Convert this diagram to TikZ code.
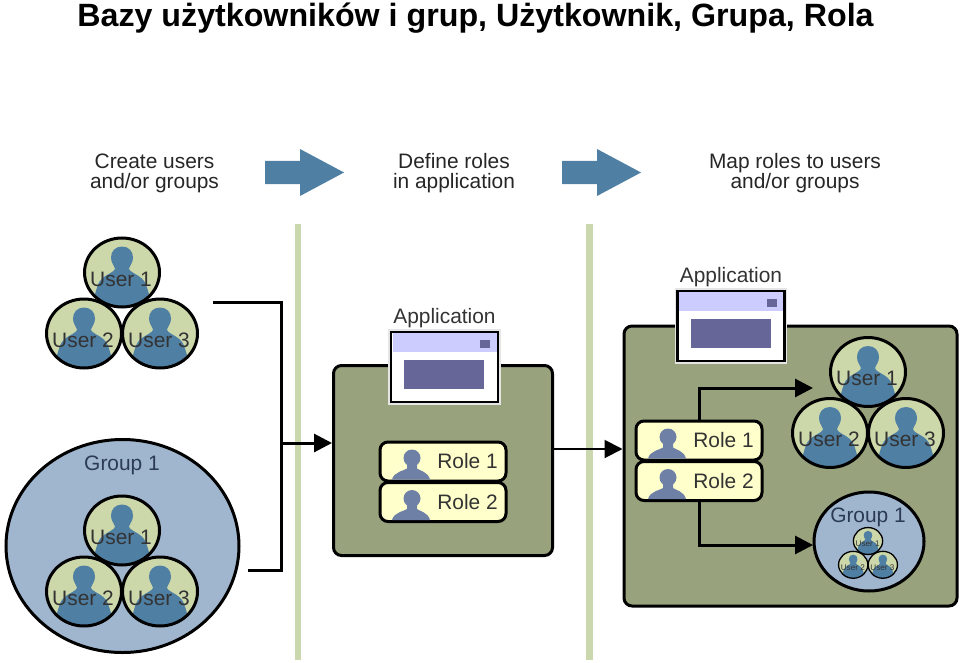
\documentclass[tikz,border=0pt]{standalone}
\usepackage{fontspec}
\setmainfont{Liberation Sans}
\usetikzlibrary{shapes.geometric, arrows.meta}

\definecolor{olivebox}{HTML}{98A27C}
\definecolor{barbeige}{HTML}{CBD7AC}
\definecolor{discgreen}{HTML}{CDD8AA}
\definecolor{steelblue}{HTML}{4F7FA3}
\definecolor{groupblue}{HTML}{A0B5CE}
\definecolor{roleyellow}{HTML}{FFFFCC}
\definecolor{roleperson}{HTML}{6F80A6}
\definecolor{wintitle}{HTML}{CCCCFF}
\definecolor{winpanel}{HTML}{666699}
\definecolor{grouptext}{HTML}{2B3B55}

\newcommand{\pxfont}{\fontsize{20.9}{20}\selectfont}

\tikzset{
  discline/.style={line width=3pt},
  pointer/.style={line width=3pt, -{Triangle[length=18pt,width=18pt]}},
  wire/.style={line width=3pt},
  headline/.style={align=center, font=\pxfont, text=black!85},
  boxpanel/.style={rectangle, draw=black, line width=3pt, fill=olivebox, rounded corners=8pt, inner sep=0pt},
  groupdisc/.style={ellipse, draw=black, line width=3pt, fill=groupblue, inner sep=0pt},
  grouplabel/.style={font=\pxfont, text=grouptext},
  pics/userdisc/.style={code={
    \fill [discgreen] (0,0) ellipse (37.5 and 34.5);
    \begin{scope}
      \clip (0,0) ellipse (37.5 and 34.5);
      \fill [steelblue] (0,-26) .. controls (-7,-26) and (-11,-21) .. (-11,-15) .. controls (-11,-10) and (-8,-7) .. (-7,-4)
        .. controls (-8,1) and (-20,2) .. (-24,12) .. controls (-26,18) and (-28,24) .. (-29,32) -- (-29,40) -- (29,40) -- (29,32)
        .. controls (28,24) and (26,18) .. (24,12) .. controls (20,2) and (8,1) .. (7,-4) .. controls (8,-7) and (11,-10) .. (11,-15)
        .. controls (11,-21) and (7,-26) .. (0,-26) -- cycle;
    \end{scope}
    \node [ellipse, draw=black, discline, minimum width=75pt, minimum height=69pt, inner sep=0pt] (-disc) at (0,0) {};
    \node [font=\pxfont, text=black!80, inner sep=0pt] (-name) at (-1,6.5) {#1};
  }},
  pics/usertrio/.style={code={
    \pic (-one) at (0,0) {userdisc={User 1}};
    \pic (-two) at (-38,61) {userdisc={User 2}};
    \pic (-three) at (38,61) {userdisc={User 3}};
  }},
  pics/rolebox/.style={code={
    \node [rectangle, draw=black, line width=3pt, fill=roleyellow, rounded corners=8pt, minimum width=126pt, minimum height=39pt, inner sep=0pt] (-box) at (0,0) {};
    \fill [roleperson] (-31,-3.5) circle (8.5);
    \fill [roleperson] (-36,3) -- (-36,7) .. controls (-38,9) and (-49,10) .. (-51,18) -- (-13,18) .. controls (-15,10) and (-24,9) .. (-26,7) -- (-26,3) -- cycle;
    \node [font=\pxfont, text=black!80, inner sep=0pt] (-name) at (24.5,0) {#1};
  }},
  pics/appwindow/.style={code={
    \node [rectangle, draw=black, line width=2.5pt, fill=white, minimum width=107pt, minimum height=70pt, inner sep=0pt,
      preaction={draw=white!90!black, line width=5.5pt}] (-frame) at (0,0) {};
    \fill [wintitle] (-52,-33.8) rectangle (52,-15);
    \fill [winpanel] (35.5,-27) rectangle (45.5,-19);
    \fill [winpanel] (-40.5,-7) rectangle (39.5,22);
    \node [font=\pxfont, text=black!80, inner sep=0pt] (-name) at (0,-48.5) {Application};
  }}
}

\begin{document}
\begin{tikzpicture}[x=1pt, y=-1pt]
  \useasboundingbox (0,0) rectangle (960,663);
  \node [font=\fontsize{32.2}{32}\selectfont\bfseries, inner sep=0pt] (title) at (475.5,18.5) {Bazy użytkowników i grup, Użytkownik, Grupa, Rola};

  \node [headline] (stepa) at (154.5,173.5) {Create users\\and/or groups};    % column headings
  \node [headline] (stepb) at (454,173) {Define roles\\in application};
  \node [headline] (stepc) at (795,173) {Map roles to users\\and/or groups};

  \fill [steelblue] (265,161) -- (300,161) -- (300,149) -- (344,172.5) -- (300,196) -- (300,184) -- (265,184) -- cycle;    % big arrows
  \fill [steelblue] (562,161) -- (597,161) -- (597,149) -- (641,172.5) -- (597,196) -- (597,184) -- (562,184) -- cycle;
  \fill [barbeige] (295,224) rectangle (301,660);    % column bars
  \fill [barbeige] (586,224) rectangle (593,660);

  \pic (usersleft) at (122,272.5) {usertrio};
  \node [groupdisc, minimum width=233pt, minimum height=213pt] (groupleft) at (122.5,546) {};
  \node [grouplabel, inner sep=0pt] (groupleftname) at (122,465) {Group 1};
  \pic (groupleftusers) at (122,530.5) {usertrio};

  \node [boxpanel, minimum width=219pt, minimum height=190pt] (midbox) at (443,460.5) {};
  \pic (midapp) at (444.5,367) {appwindow};
  \pic (midroleone) at (443,461.5) {rolebox={Role 1}};
  \pic (midroletwo) at (443,502) {rolebox={Role 2}};

  \node [boxpanel, minimum width=333pt, minimum height=280pt] (mapbox) at (790.5,466) {};
  \pic (mapapp) at (731,326) {appwindow};
  \pic (maproleone) at (699,440.5) {rolebox={Role 1}};
  \pic (maproletwo) at (699,481) {rolebox={Role 2}};
  \pic (mapusers) at (868,372) {usertrio};
  \node [groupdisc, minimum width=110pt, minimum height=99pt] (mapgroup) at (869,541.5) {};
  \node [grouplabel, inner sep=0pt] (mapgroupname) at (868,517) {Group 1};
  \pic [scale=.39, transform shape, discline/.style={line width=1.3pt}] (mapgroupusers) at (868,541) {usertrio};

  \coordinate (usersout) at (213,302.5);    % free ends of the connectors
  \coordinate (groupout) at (248,570.5);
  \coordinate (joinleft) at (281,443);
  \coordinate (midout) at (553,449);
  \coordinate (mapusersin) at (813,388);
  \coordinate (mapgroupin) at (813,545);

  \draw [wire] (usersout) -| (joinleft) |- (groupout);
  \draw [pointer] (joinleft) -- (joinleft -| midbox.west);
  \draw [pointer, line width=2pt] (midout) -- (midout -| mapbox.west);
  \draw [pointer] (maproleone-box.north) |- (mapusersin);
  \draw [pointer] (maproletwo-box.south) |- (mapgroupin);
\end{tikzpicture}
\end{document}
